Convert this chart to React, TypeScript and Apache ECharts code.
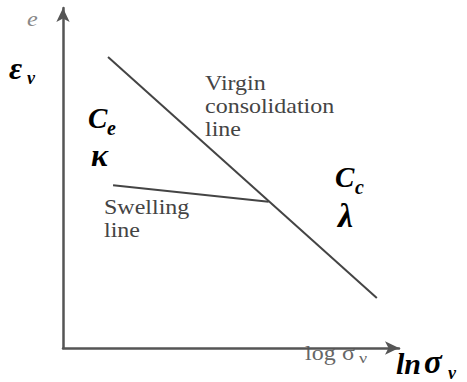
import React, { useEffect, useRef } from "react";
import * as echarts from "echarts";

// Idealised e – log σv diagram (compression and swelling lines)
const virginLine: [number, number][] = [
  [13.4, 85.6],
  [93.4, 14.7],
];
const swellingLine: [number, number][] = [
  [14.9, 47.9],
  [61.2, 43.0],
];

const W = 467;
const H = 382;

export default function App() {
  const ref = useRef<HTMLDivElement>(null);

  useEffect(() => {
    if (!ref.current) return;
    const chart = echarts.init(ref.current, null, { renderer: "svg" });
    // place a text by its baseline; `wide` stretches it horizontally
    const txt = (
      text: string,
      x: number,
      baseline: number,
      size: number,
      italic: boolean,
      bold: boolean,
      fill: string,
      wide = 1
    ) => ({
      type: "text",
      x,
      y: baseline - 0.83 * size,
      scaleX: wide,
      style: {
        text,
        fontFamily: "Liberation Serif",
        fontSize: size,
        fontStyle: italic ? "italic" : "normal",
        fontWeight: bold ? "bold" : "normal",
        fill,
        verticalAlign: "top",
        align: "left",
      },
      silent: true,
    });
    const grey = "#444";

    chart.setOption({
      animation: false,
      backgroundColor: "#ffffff",
      grid: { left: 63, right: 68, top: 8, bottom: 34 },
      xAxis: {
        type: "value",
        min: 0,
        max: 100,
        axisLine: {
          show: true,
          symbol: ["none", "arrow"],
          symbolSize: [10, 14],
          lineStyle: { color: "#555", width: 2.5 },
        },
        axisTick: { show: false },
        axisLabel: { show: false },
        splitLine: { show: false },
      },
      yAxis: {
        type: "value",
        min: 0,
        max: 100,
        axisLine: {
          show: true,
          symbol: ["none", "arrow"],
          symbolSize: [10, 14],
          lineStyle: { color: "#555", width: 2.5 },
        },
        axisTick: { show: false },
        axisLabel: { show: false },
        splitLine: { show: false },
      },
      series: [
        {
          name: "Virgin consolidation line",
          type: "line",
          data: virginLine,
          symbol: "none",
          lineStyle: { color: "#444", width: 2 },
        },
        {
          name: "Swelling line",
          type: "line",
          data: swellingLine,
          symbol: "none",
          lineStyle: { color: "#444", width: 2 },
        },
      ],
      graphic: [
        txt("e", 27, 26, 22, true, false, "#888", 1.1),
        txt("ε", 9, 79, 32, true, true, "#000"),
        txt("v", 27, 84, 18, true, true, "#000"),
        txt("C", 88, 128, 29, true, true, "#000"),
        txt("e", 107, 135, 20, true, true, "#000"),
        txt("κ", 91, 166, 32, true, true, "#000"),
        txt("Virgin", 205, 90, 20, false, false, grey, 1.2),
        txt("consolidation", 205, 113, 20, false, false, grey, 1.2),
        txt("line", 205, 136, 20, false, false, grey, 1.2),
        txt("Swelling", 104, 214, 20, false, false, grey, 1.2),
        txt("line", 104, 237, 20, false, false, grey, 1.2),
        txt("C", 335, 187, 29, true, true, "#000"),
        txt("c", 355, 194, 20, true, true, "#000"),
        txt("λ", 338, 227, 34, true, true, "#000"),
        txt("log", 305, 360, 20, false, false, "#666", 1.2),
        txt("σ", 342, 360, 20, false, false, "#666", 1.2),
        txt("ν", 359, 363, 15, false, false, "#666", 1.2),
        txt("ln", 396, 373, 30, true, true, "#000"),
        txt("σ", 424, 373, 33, true, true, "#000"),
        txt("v", 448, 379, 18, true, true, "#000"),
      ],
    });
    return () => chart.dispose();
  }, []);

  return (
    <div
      ref={ref}
      style={{ position: "fixed", left: 0, top: 0, width: W, height: H }}
    />
  );
}
